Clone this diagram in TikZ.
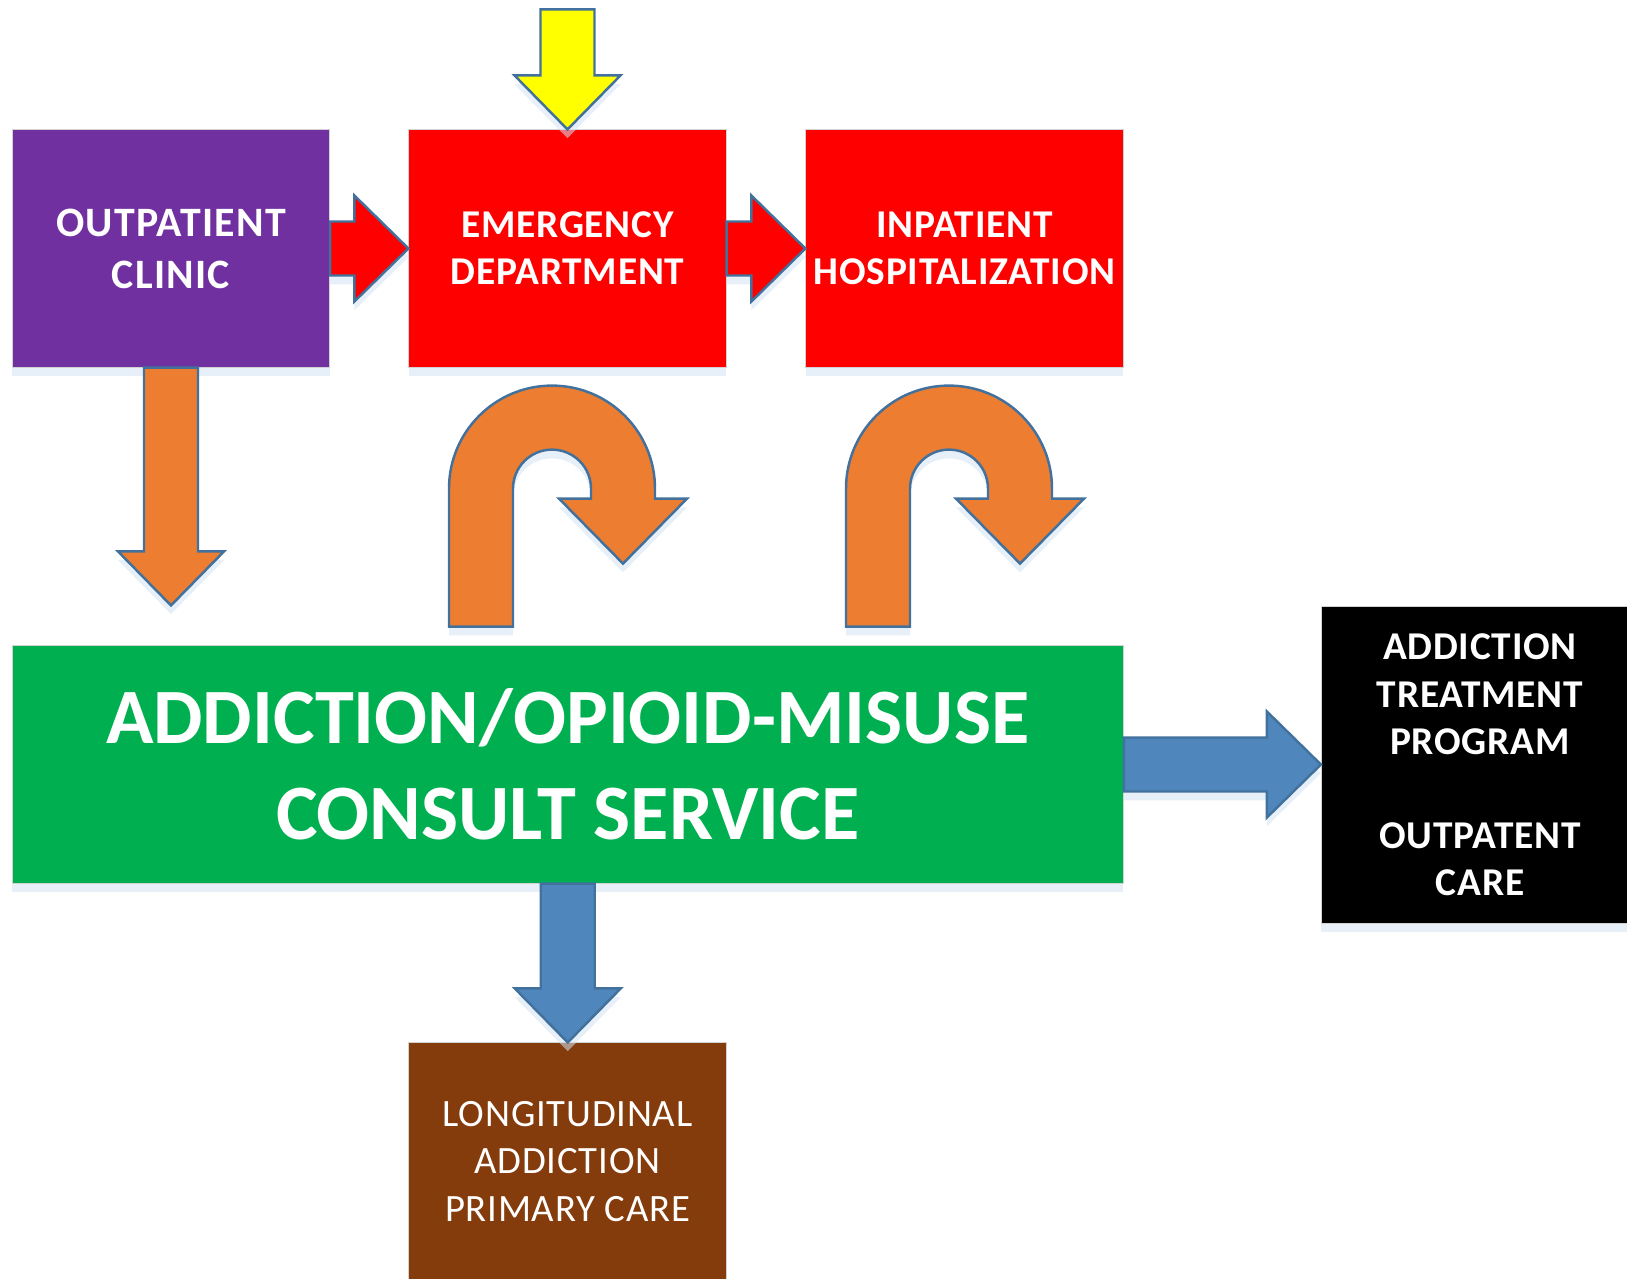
\documentclass[tikz,border=0pt]{standalone}
\usepackage{fontspec}
\setmainfont{Carlito}
\usetikzlibrary{calc,shadows}

\definecolor{clinicpurple}{HTML}{7030A0}
\definecolor{edred}{HTML}{FF0000}
\definecolor{consultgreen}{HTML}{00B050}
\definecolor{carebrown}{HTML}{843C0C}
\definecolor{arroworange}{HTML}{ED7D31}
\definecolor{arrowblue}{HTML}{4F87BD}
\definecolor{arrowyellow}{HTML}{FFFF00}
\definecolor{arrowline}{HTML}{41719C}
\definecolor{glow}{HTML}{D3E2F2}

% block arrow to the right, from #1 to the x of #2
\newcommand{\rightblock}[3]{%
  \coordinate (bs) at (#1);
  \coordinate (bt) at (#1 -| #2);
  \draw[blockarrow, fill=#3] ($(bs)+(0,-27)$) -- ($(bt)+(-54,-27)$) -- ($(bt)+(-54,-53)$)
    -- (bt) -- ($(bt)+(-54,53)$) -- ($(bt)+(-54,27)$) -- ($(bs)+(0,27)$) -- cycle;}
% block arrow downwards, from #1 to the y of #2
\newcommand{\downblock}[3]{%
  \coordinate (bs) at (#1);
  \coordinate (bt) at (#1 |- #2);
  \draw[blockarrow, fill=#3] ($(bs)+(-27,0)$) -- ($(bt)+(-27,-54)$) -- ($(bt)+(-53,-54)$)
    -- (bt) -- ($(bt)+(53,-54)$) -- ($(bt)+(27,-54)$) -- ($(bs)+(27,0)$) -- cycle;}
% u-turn arrow round the centre #1
\newcommand{\uturn}[1]{%
  \draw[blockarrow, fill=arroworange, shift={(#1)}] (-103,138) -- (-103,0)
    arc (180:360:103) -- (103,10) -- (135,10) -- (71,75) -- (7,10) -- (39,10) -- (39,0)
    arc (360:180:39) -- (-39,138) -- cycle;}

\begin{document}
\begin{tikzpicture}[x=0.01cm, y=-0.01cm,
    unitbox/.style={minimum width=3.17cm, minimum height=2.37cm, inner sep=0pt,
      align=center, text=white, draw=gray!35, line width=0.3pt,
      font=\fontsize{11.2}{13.4}\selectfont\bfseries\addfontfeatures{LetterSpace=2},
      drop shadow={shadow xshift=0pt, shadow yshift=-2.5pt, fill=glow, opacity=0.55}},
    blockarrow/.style={draw=arrowline, line width=0.7pt, line join=miter,
      drop shadow={shadow xshift=0pt, shadow yshift=-2.5pt, fill=glow, opacity=0.55}}]
    \useasboundingbox (0,0) rectangle (1627,1278);
    \clip (0,0) rectangle (1627,1278);
    %Top row
    \node[unitbox, fill=clinicpurple,
      font=\fontsize{11.9}{14.8}\selectfont\bfseries\addfontfeatures{LetterSpace=3}]
      (oc) at (171,248.5) {OUTPATIENT\\CLINIC};
    \node[unitbox, fill=edred] (ed) at (567.5,248.5) {EMERGENCY\\DEPARTMENT};
    \node[unitbox, fill=edred] (ip) at (964.5,248.5) {INPATIENT\\HOSPITALIZATION};
    %Consult service
    \node[unitbox, fill=consultgreen, minimum width=11.105cm,
      font=\fontsize{22.3}{27.4}\selectfont\bfseries]
      (acs) at (567.75,764.5) {ADDICTION/OPIOID-MISUSE\\CONSULT SERVICE};
    %Follow-up
    \node[unitbox, fill=black, minimum height=3.17cm]
      (atp) at (1480,765) {ADDICTION\\TREATMENT\\PROGRAM\\[13.4pt]OUTPATENT\\CARE};
    \node[unitbox, fill=carebrown,
      font=\fontsize{11}{13.5}\selectfont\addfontfeatures{LetterSpace=2}]
      (lc) at (567.5,1161.5) {LONGITUDINAL\\ADDICTION\\PRIMARY CARE};
    %Arrows into the emergency department
    \coordinate (edin) at ($(ed.north)+(0,-120)$);
    \downblock{edin}{ed.north}{arrowyellow}
    \rightblock{oc.east}{ed.west}{edred}
    \rightblock{ed.east}{ip.west}{edred}
    %Arrows down to the consult service
    \coordinate (ocend) at ($(oc.south |- acs.north)+(0,-40)$);
    \downblock{oc.south}{ocend}{arroworange}
    \coordinate (ut1) at ($(ed.south)+(-15.5,121)$);
    \coordinate (ut2) at ($(ip.south)+(-15.5,121)$);
    \uturn{ut1}
    \uturn{ut2}
    %Arrows out of the consult service
    \downblock{acs.south}{lc.north}{arrowblue}
    \rightblock{acs.east}{atp.west}{arrowblue}
\end{tikzpicture}
\end{document}
